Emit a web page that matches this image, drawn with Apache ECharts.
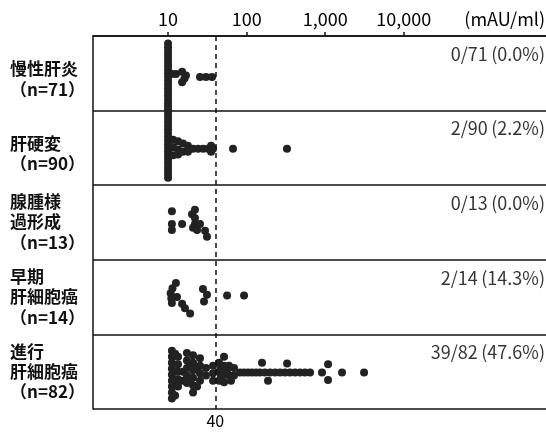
<!DOCTYPE html>
<html>
<head>
<meta charset="utf-8">
<script src="https://cdn.jsdelivr.net/npm/echarts@6/dist/echarts.min.js"></script>
<style>
html, body { margin: 0; padding: 0; background: #fff; }
#main { width: 546px; height: 436px; }
</style>
</head>
<body>
<div id="main"></div>
<script>
var groups = ['慢性肝炎', '肝硬変', '腺腫様\n過形成', '早期\n肝細胞癌', '進行\n肝細胞癌'];
var nTotal = [71, 90, 13, 14, 82];
var nPositive = [0, 2, 0, 2, 39];
var cutoff = 40;
var tickValues = [10, 100, 1000, 10000];

// [AFP (mAU/ml), 行内の縦位置 0-1]
var dataCH = [
    [10, 0.10], [10, 0.15], [10, 0.20], [10, 0.25], [10, 0.30], [10, 0.35], [10, 0.40],
    [10, 0.45], [10, 0.50], [10, 0.55], [10, 0.60], [10, 0.65], [10, 0.70], [10, 0.75],
    [10, 0.80], [10, 0.85], [10, 0.90], [10, 0.95], [10, 1.00],
    [11.2, 0.51], [12.6, 0.51], [15.1, 0.48], [16.9, 0.53], [15.1, 0.62], [16.2, 0.57],
    [25.5, 0.55], [30.4, 0.55], [36.3, 0.55]
];
var dataLC = [
    [10, 0.00], [10, 0.05], [10, 0.10], [10, 0.15], [10, 0.20], [10, 0.25], [10, 0.30],
    [10, 0.35], [10, 0.40], [10, 0.45], [10, 0.50], [10, 0.55], [10, 0.60], [10, 0.65],
    [10, 0.70], [10, 0.75], [10, 0.80], [10, 0.85], [10, 0.90],
    [11.6, 0.39], [11.6, 0.49], [11.6, 0.60], [13.4, 0.41], [13.4, 0.52], [13.4, 0.59],
    [15.5, 0.44], [15.5, 0.55], [17.9, 0.47], [17.9, 0.55], [20.8, 0.51], [24.1, 0.51],
    [27.9, 0.51], [32.3, 0.51], [35.3, 0.47], [35.3, 0.55], [37.4, 0.51],
    [67.1, 0.51], [326, 0.51]
];
var dataAH = [
    [11.2, 0.35], [11.2, 0.52], [11.2, 0.60], [15.1, 0.52], [20.2, 0.39], [22.0, 0.33],
    [22.0, 0.44], [22.0, 0.52], [20.8, 0.57], [23.4, 0.60], [25.5, 0.52], [29.6, 0.61],
    [31.3, 0.69]
];
var dataEHCC = [
    [12.6, 0.31], [11.4, 0.38], [10.8, 0.45], [13.0, 0.50], [11.0, 0.52], [11.2, 0.58],
    [15.1, 0.59], [16.4, 0.65], [19.1, 0.72], [27.8, 0.39], [31.3, 0.47], [28.7, 0.56],
    [56.4, 0.48], [92.7, 0.48]
];
var dataAHCC = [
    [11.2, 0.22], [11.2, 0.30], [11.2, 0.38], [11.2, 0.46], [11.2, 0.54], [11.2, 0.62],
    [11.2, 0.70], [11.2, 0.78], [11.2, 0.86],
    [12.3, 0.26], [12.3, 0.66], [12.3, 0.82],
    [13.4, 0.30], [13.4, 0.40], [13.4, 0.50], [13.4, 0.60], [13.4, 0.70],
    [15.5, 0.50], [15.5, 0.62],
    [17.4, 0.25], [17.4, 0.35], [17.4, 0.45], [17.4, 0.55], [17.4, 0.65],
    [19.1, 0.40], [19.1, 0.60],
    [20.8, 0.28], [20.8, 0.38], [20.8, 0.48], [20.8, 0.58], [20.8, 0.68], [20.8, 0.78],
    [23.4, 0.45], [23.4, 0.70],
    [25.5, 0.32], [25.5, 0.42], [25.5, 0.52], [25.5, 0.62],
    [30.4, 0.45], [30.4, 0.55],
    [37.4, 0.42], [37.4, 0.52], [37.4, 0.62],
    [44.6, 0.38], [44.6, 0.50], [44.6, 0.62], [47.2, 0.44], [47.2, 0.56],
    [51.6, 0.30], [51.6, 0.42], [51.6, 0.54], [51.6, 0.64], [56.3, 0.50],
    [59.7, 0.42], [59.7, 0.55], [63.3, 0.62], [69.1, 0.45], [69.1, 0.55],
    [82.4, 0.51], [92.7, 0.51], [104, 0.51], [117, 0.51], [132, 0.51], [148, 0.51],
    [171, 0.51], [199, 0.51], [230, 0.51], [266, 0.51], [308, 0.51], [357, 0.51],
    [413, 0.51], [478, 0.51], [553, 0.51], [641, 0.51],
    [157, 0.38], [187, 0.62], [327, 0.39],
    [910, 0.51], [1086, 0.40], [1086, 0.61], [1636, 0.51], [3119, 0.51]
];

var rows = [dataCH, dataLC, dataAH, dataEHCC, dataAHCC];

var font = '"Noto Sans CJK JP", "Noto Sans", sans-serif';
var ink = '#111';
var xMin = 1.11, xMax = 644000;

var points = [];
rows.forEach(function (row, i) {
    row.forEach(function (d) {
        points.push([d[0], i + d[1]]);
    });
});
var ratioData = groups.map(function (g, i) {
    return [xMax, i + 0.24, i];
});

var myChart = echarts.init(document.getElementById('main'));
var option = {
    animation: false,
    backgroundColor: '#fff',
    textStyle: { fontFamily: font },
    grid: { left: 93, right: 0, top: 36, bottom: 27, outerBoundsMode: 'none' },
    xAxis: {
        type: 'log',
        position: 'top',
        min: xMin,
        max: xMax,
        name: '(mAU/ml)',
        nameLocation: 'end',
        nameGap: -1,
        nameTextStyle: { align: 'right', verticalAlign: 'bottom', padding: [0, 0, 8, 0], fontSize: 18, color: '#000' },
        axisLine: { lineStyle: { color: ink, width: 1.5 } },
        axisTick: { customValues: tickValues, length: 4, lineStyle: { color: ink, width: 1.5 } },
        axisLabel: {
            customValues: tickValues,
            margin: 8,
            fontSize: 18,
            color: '#000',
            formatter: function (v) { return Math.round(v).toLocaleString('en-US'); }
        },
        splitLine: { show: false },
        minorTick: { show: false }
    },
    yAxis: {
        type: 'value',
        min: 0,
        max: 5,
        interval: 1,
        inverse: true,
        axisLine: { show: true, lineStyle: { color: ink, width: 1.5 } },
        axisTick: { show: false },
        splitLine: { show: true, lineStyle: { color: ink, width: 1.5 } },
        axisLabel: {
            customValues: [0.5, 1.5, 2.5, 3.5, 4.5],
            align: 'left',
            margin: 83,
            formatter: function (v) {
                var i = Math.floor(v);
                var head = groups[i].indexOf('\n') < 0 ? '{sp|}\n' : '';
                return head + '{k|' + groups[i] + '}\n{n|（n=' + nTotal[i] + '）}';
            },
            rich: {
                sp: { fontSize: 10, lineHeight: 12 },
                k: { fontSize: 17, lineHeight: 20, fontWeight: 'bold', color: ink, fontFamily: font },
                n: { fontSize: 17, lineHeight: 21, fontWeight: 'bold', color: ink, fontFamily: font }
            }
        }
    },
    series: [
        {
            name: 'AFP',
            type: 'scatter',
            data: points,
            symbolSize: 8,
            silent: true,
            itemStyle: { color: '#222', opacity: 1 },
            markLine: {
                silent: true,
                symbol: 'none',
                lineStyle: { type: [5, 4], color: ink, width: 1.5 },
                label: { show: true, position: 'end', formatter: String(cutoff), fontSize: 16, color: '#000', distance: 4 },
                data: [[{ coord: [cutoff, 0] }, { coord: [cutoff, 5] }]]
            }
        },
        {
            name: 'ratio',
            type: 'scatter',
            data: ratioData,
            symbolSize: 0,
            silent: true,
            label: {
                show: true,
                position: 'left',
                distance: 1,
                fontSize: 18,
                color: '#000',
                formatter: function (p) {
                    var i = p.value[2];
                    var pct = (nPositive[i] / nTotal[i] * 100).toFixed(1);
                    return nPositive[i] + '/' + nTotal[i] + '\u2009(' + pct + '%)';
                }
            }
        }
    ]
};
myChart.setOption(option);
</script>
</body>
</html>
